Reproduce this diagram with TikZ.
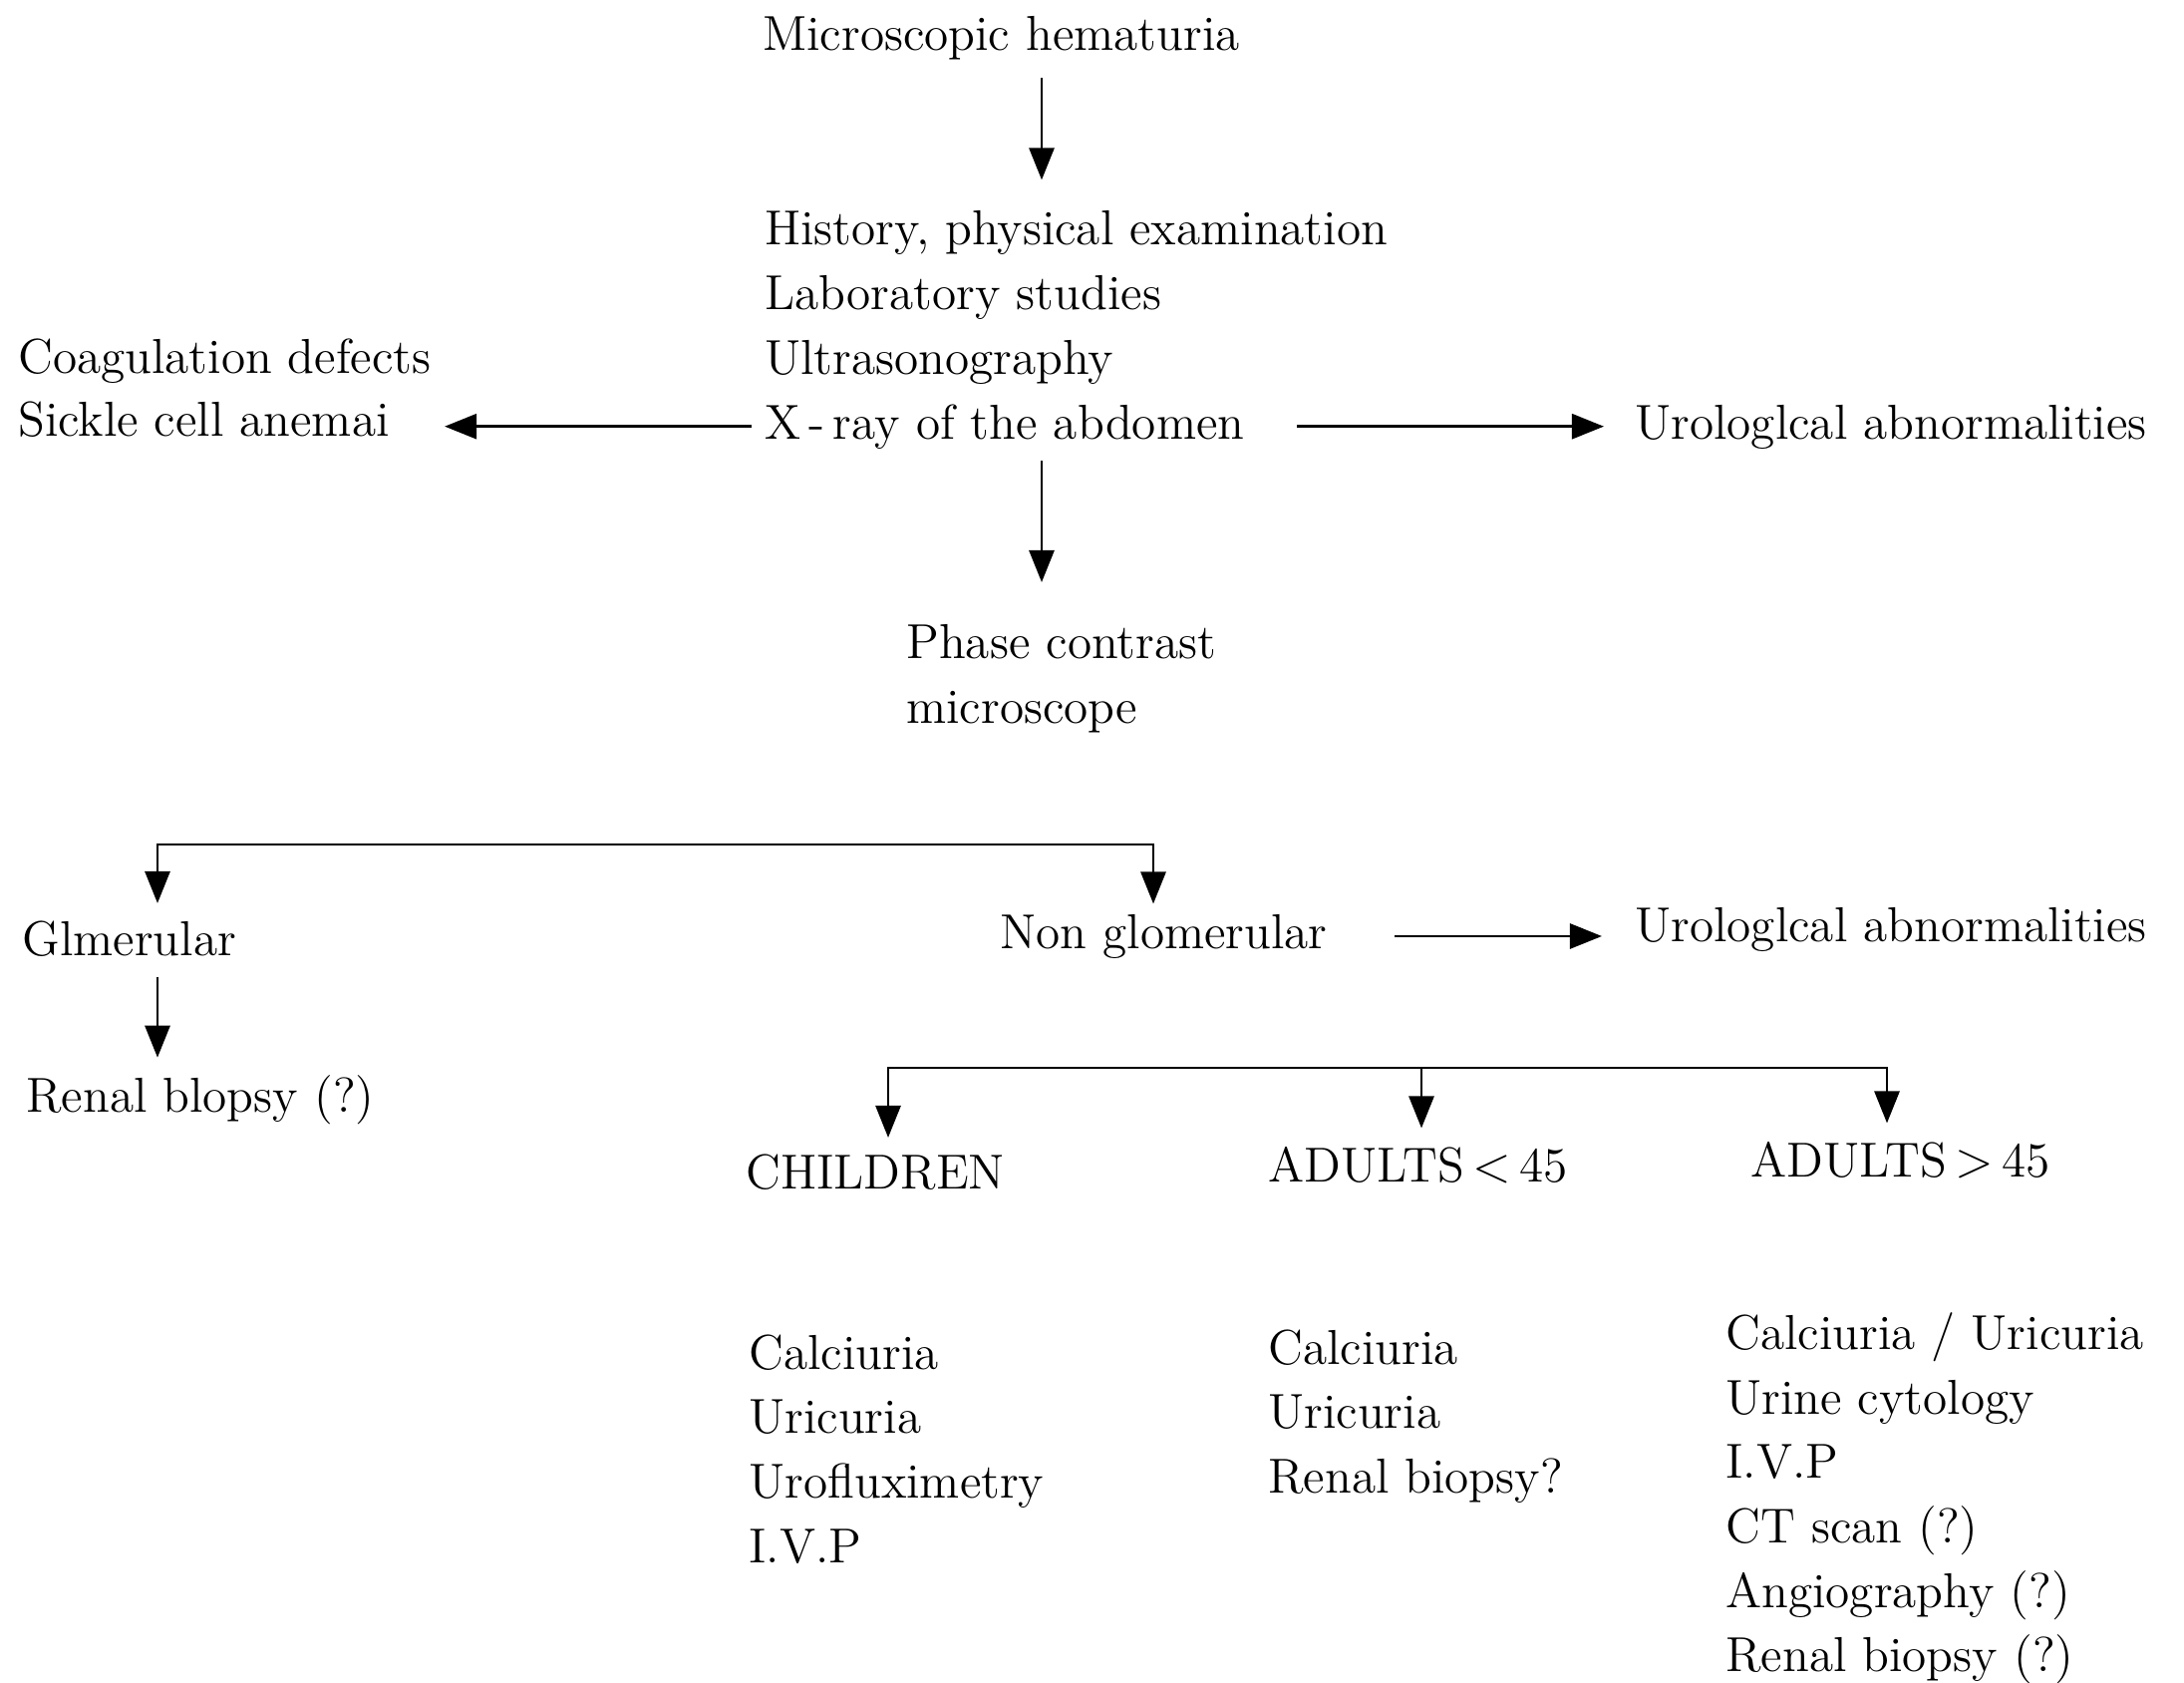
\documentclass[tikz,border=0pt]{standalone}
\usetikzlibrary{arrows.meta}
\begin{document}
\begin{tikzpicture}[x=0.01cm, y=-0.01cm, thick, >={Triangle[length=3.2mm,width=2.5mm]},
        txt/.style = {font=\fontsize{14pt}{18.4pt}\selectfont, inner sep=0pt, anchor=base west},
        lst/.style = {txt, align=left, anchor=north west}]
        \useasboundingbox (0,0) rectangle (2191,1687);
        % top of the chart
        \node[txt] (hema) at (764,50) {Microscopic hematuria};
        \node[txt] (hist) at (766,245) {History, physical examination};
        \node[txt] (lab) at (766,310) {Laboratory studies};
        \node[txt] (ultra) at (766,375) {Ultrasonography};
        \node[txt] (xray) at (766,440) {X\,-\,ray of the abdomen};
        \node[txt] (coag) at (17,374) {Coagulation defects};
        \node[txt] (sickle) at (17,437) {Sickle cell anemai};
        \node[txt] (urol1) at (1639,440) {Urologlcal abnormalities};
        \node[lst] (phase) at (908,625) {Phase contrast\\microscope};
        % glomerular or not
        \node[txt] (glom) at (21,958) {Glmerular};
        \node[txt] (nonglom) at (1002,951) {Non glomerular};
        \node[txt] (urol2) at (1639,944) {Urologlcal abnormalities};
        \node[txt] (biopsy) at (25,1115) {Renal blopsy (?)};
        % age groups
        \node[txt] (child) at (747,1192) {CHILDREN};
        \node[txt] (young) at (1271,1185) {ADULTS\,$<$\,45};
        \node[txt] (old) at (1755,1180) {ADULTS\,$>$\,45};
        \node[lst] (childlist) at (750,1337) {Calciuria\\Uricuria\\Urofluximetry\\I.V.P};
        \node[lst] (younglist) at (1271,1332) {Calciuria\\Uricuria\\Renal biopsy?};
        \node[lst] (oldlist) at (1730,1315) {Calciuria / Uricuria\\Urine cytology\\I.V.P\\CT scan (?)\\Angiography (?)\\Renal biopsy (?)};
        \coordinate (split1) at (658,847);
        \coordinate (split2) at (1426,1071);
        \draw[->, shorten <=0.17cm, shorten >=0.29cm] (hema.south -| 1045,0) -- (hist.north -| 1045,0);
        \draw[->, shorten <=0.12cm, shorten >=0.54cm] (xray.west) -- (sickle.east |- xray.west);
        \draw[->, shorten <=0.51cm, shorten >=0.30cm] (xray.east) -- (urol1.west |- xray.east);
        \draw[->, shorten <=0.11cm, shorten >=0.41cm] (xray.south -| 1045,0) -- (phase.north -| 1045,0);
        \draw[->, shorten >=0.16cm] (split1) -| (glom.north -| 158,0);
        \draw[->, shorten >=0.09cm] (split1) -| (nonglom.north -| 1157,0);
        \draw[->, shorten <=0.66cm, shorten >=0.32cm] (nonglom.east) -- (urol2.west |- nonglom.east);
        \draw[->, shorten <=0.20cm, shorten >=0.16cm] (glom.south -| 158,0) -- (biopsy.north -| 158,0);
        \draw[->, shorten >=0.15cm] (split2) -| (child.north -| 891,0);
        \draw[->, shorten >=0.17cm] (split2) -- (young.north -| 1426,0);
        \draw[->, shorten >=0.17cm] (split2) -| (old.north -| 1893,0);
\end{tikzpicture}
\end{document}
